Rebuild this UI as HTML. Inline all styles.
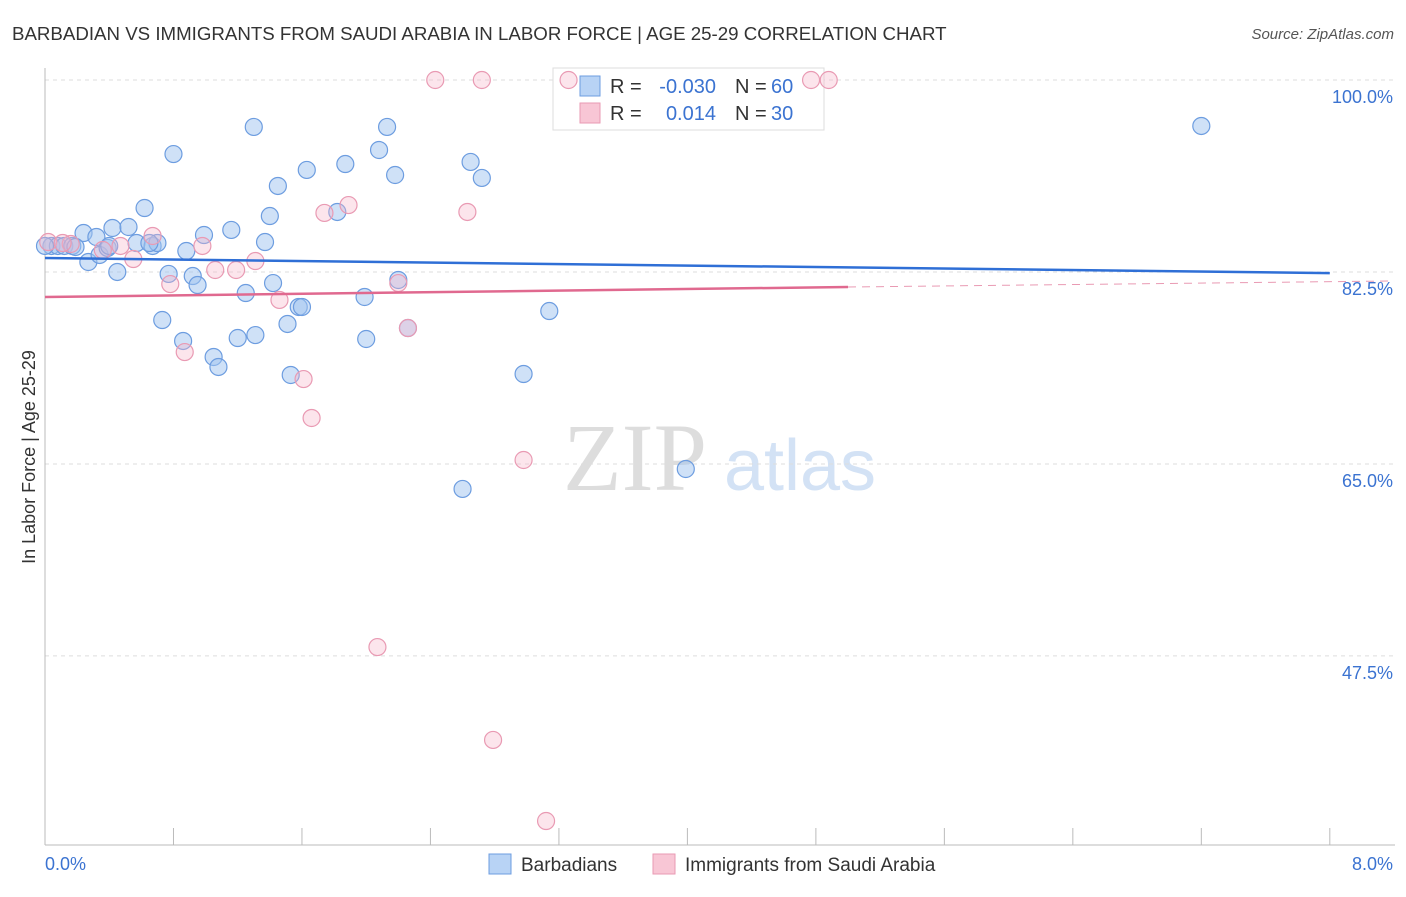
<!DOCTYPE html>
<html><head><meta charset="utf-8"><style>
body{margin:0;background:#fff;font-family:"Liberation Sans",sans-serif}
</style></head><body>
<svg width="1406" height="892" viewBox="0 0 1406 892" xmlns="http://www.w3.org/2000/svg" font-family="Liberation Sans, sans-serif">
<text x="12" y="40" font-size="18.7" fill="#333">BARBADIAN VS IMMIGRANTS FROM SAUDI ARABIA IN LABOR FORCE | AGE 25-29 CORRELATION CHART</text>
<text x="1394" y="39" font-size="15" fill="#555" font-style="italic" text-anchor="end">Source: ZipAtlas.com</text>
<text x="35" y="457" font-size="18" fill="#333" text-anchor="middle" transform="rotate(-90 35 457)">In Labor Force | Age 25-29</text>
<g><text x="635" y="490" font-size="96" fill="#ddd" font-family="Liberation Serif, serif" text-anchor="middle">ZIP</text><text x="800" y="490" font-size="72" fill="#d3e2f5" text-anchor="middle">atlas</text></g>
<g id="grid"></g><g id="axes"></g>
<g>
<rect x="553" y="68" width="271" height="62" fill="#fff" stroke="#ddd"/>
<rect x="580" y="76" width="20" height="20" fill="#b8d3f5" stroke="#6d9de0"/>
<text x="610" y="93" font-size="20" fill="#333">R =</text>
<text x="716" y="93" font-size="20" fill="#3b73d1" text-anchor="end">-0.030</text>
<text x="735" y="93" font-size="20" fill="#333">N =</text>
<text x="771" y="93" font-size="20" fill="#3b73d1">60</text>
<rect x="580" y="103" width="20" height="20" fill="#f8c6d5" stroke="#e99ab3"/>
<text x="610" y="120" font-size="20" fill="#333">R =</text>
<text x="716" y="120" font-size="20" fill="#3b73d1" text-anchor="end">0.014</text>
<text x="735" y="120" font-size="20" fill="#333">N =</text>
<text x="771" y="120" font-size="20" fill="#3b73d1">30</text>
</g>
<g id="pts"></g><g id="trend"></g>
<g>
<rect x="489" y="854" width="22" height="20" fill="#b8d3f5" stroke="#6d9de0"/>
<text x="521" y="871" font-size="19" fill="#333">Barbadians</text>
<rect x="653" y="854" width="22" height="20" fill="#f8c6d5" stroke="#e99ab3"/>
<text x="685" y="871" font-size="19" fill="#333">Immigrants from Saudi Arabia</text>
</g>
</svg>
<script>
const yTicks=[100,82.5,65,47.5];
const yTickLabels=["100.0%","82.5%","65.0%","47.5%"];
const xTickLabels=["0.0%","8.0%"];
const blueX=[.04,.08,.12,.17,.24,.27,.32,.34,.39,.42,.45,.52,.57,.62,.67,.70,.73,.77,.80,.86,.88,.92,.95,.99,1.05,1.08,1.16,1.20,1.25,1.30,1.31,1.37,1.40,1.42,1.45,1.51,1.53,1.58,1.60,1.63,1.82,1.87,1.99,2.00,2.08,2.13,2.18,2.20,2.26,2.60,2.65,2.72,2.98,3.14,3.99,7.20,0,.19,.40,.65];
const blueY=[84.87,84.87,84.87,84.87,86.05,83.41,85.69,84.05,84.69,86.51,82.5,86.6,85.14,88.33,84.87,85.14,78.12,82.32,93.25,76.21,84.41,82.13,81.31,85.87,74.75,73.84,86.33,76.48,80.58,95.72,76.75,85.23,87.6,81.49,90.34,77.76,73.11,79.31,79.31,91.8,87.97,92.34,80.22,76.39,93.62,95.72,91.34,81.77,77.39,62.72,92.53,91.07,73.2,78.94,64.54,95.81,84.87,84.78,84.87,85.14];
const pinkX=[.02,.16,.36,.47,.55,.67,.78,.87,.98,1.06,1.19,1.31,1.46,1.61,1.66,1.74,1.89,2.07,2.20,2.26,2.43,2.63,2.72,2.79,2.98,3.12,3.26,4.77,4.88,.11];
const pinkY=[85.23,85.05,84.5,84.87,83.68,85.78,81.4,75.2,84.87,82.68,82.68,83.5,79.95,72.74,69.19,87.88,88.6,48.31,81.49,77.39,100,87.97,100,39.84,65.36,32.45,100,100,100,85.14];
const blueTrend=[[0,83.77],[8,82.4]];
const pinkTrend=[[0,80.22],[5,81.13]];
const pinkTrendExt=[[5,81.13],[8.4,81.68]];
const NS="http://www.w3.org/2000/svg";
const X=v=>45+v*160.6, Y=v=>80+(100-v)*10.97;
function mk(p,t,a){const e=document.createElementNS(NS,t);for(const k in a)e.setAttribute(k,a[k]);document.getElementById(p).appendChild(e);return e;}
yTicks.forEach((t,i)=>{
 const l=mk('grid','line',{x1:45,x2:1395,y1:Y(t),y2:Y(t),stroke:'#ddd','stroke-dasharray':'4,4'});
 
 
 const tx=mk('grid','text',{x:1393,y:Y(t)+23,'font-size':18,fill:'#3b73d1','text-anchor':'end'});
 tx.textContent=yTickLabels[i];
 
 
});
let a=mk('axes','line',{x1:45,x2:45,y1:68,y2:845,stroke:'#bbb'});


a=mk('axes','line',{x1:45,x2:1395,y1:845,y2:845,stroke:'#bbb'});


for(let i=0;i<=10;i++){const t=mk('axes','line',{x1:X(i*0.8),x2:X(i*0.8),y1:828,y2:845,stroke:'#bbb'});
 
 }
[[0,45,'start'],[1,1393,'end']].forEach(([i,x,an])=>{const t=mk('axes','text',{x:x,y:870,'font-size':18,fill:'#3b73d1','text-anchor':an});t.textContent=xTickLabels[i];
 
 });
blueX.forEach((v,i)=>{const c=mk('pts','circle',{cx:X(v),cy:Y(blueY[i]),r:8.5,fill:'rgba(160,196,240,0.5)',stroke:'#6d9de0','stroke-width':1.2});
 
 });
pinkX.forEach((v,i)=>{const c=mk('pts','circle',{cx:X(v),cy:Y(pinkY[i]),r:8.5,fill:'rgba(245,180,200,0.35)',stroke:'#e99ab3','stroke-width':1.2});
 
 });
let l=mk('trend','line',{x1:X(blueTrend[0][0]),y1:Y(blueTrend[0][1]),x2:X(blueTrend[1][0]),y2:Y(blueTrend[1][1]),stroke:'#2f6fd6','stroke-width':2.5});


l=mk('trend','line',{x1:X(pinkTrend[0][0]),y1:Y(pinkTrend[0][1]),x2:X(pinkTrend[1][0]),y2:Y(pinkTrend[1][1]),stroke:'#e0698f','stroke-width':2.5});


l=mk('trend','line',{x1:X(pinkTrendExt[0][0]),y1:Y(pinkTrendExt[0][1]),x2:X(pinkTrendExt[1][0]),y2:Y(pinkTrendExt[1][1]),stroke:'#e99ab3','stroke-width':1,'stroke-dasharray':'8,6'});


</script>
</body></html>
